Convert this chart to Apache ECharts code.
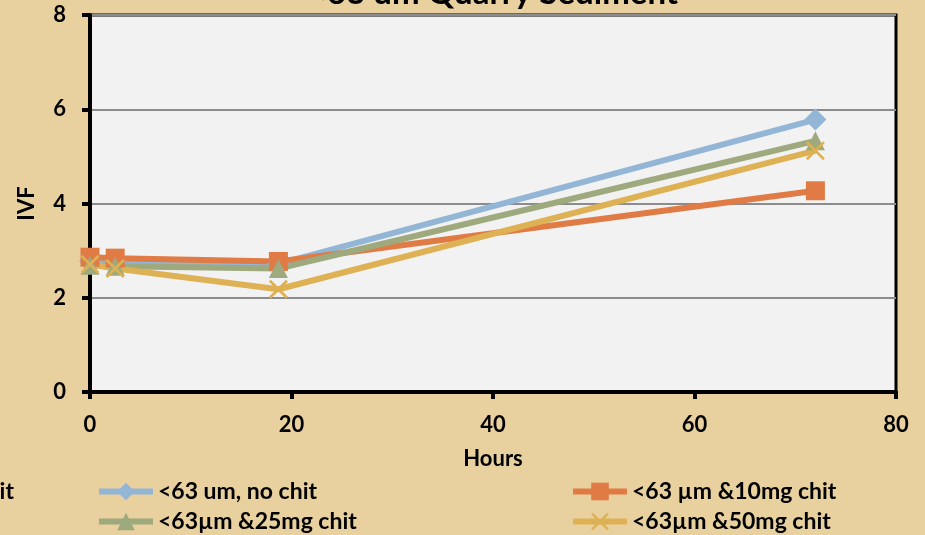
<!DOCTYPE html>
<html>
<head>
<meta charset="utf-8">
<script src="https://cdn.jsdelivr.net/npm/echarts@6/dist/echarts.min.js"></script>
<style>
  html, body { margin: 0; padding: 0; background: #E8D19E; }
  #chart { width: 925px; height: 535px; }
</style>
</head>
<body>
<div id="chart"></div>
<script>
// Incubation time (hours) and IVF readings for each treatment
var hours = [0, 2.5, 18.7, 72];
var noChit = [2.78, 2.78, 2.72, 5.78];
var chit10 = [2.86, 2.84, 2.77, 4.27];
var chit25 = [2.69, 2.67, 2.62, 5.33];
var chit50 = [2.71, 2.62, 2.18, 5.12];

var seriesNames = ['<63 um, no chit', '<63 µm &10mg chit', '<63µm &25mg chit', '<63µm &50mg chit'];
var seriesColors = ['#93B5D6', '#E07B45', '#9EA97D', '#DDB154'];
var yTicks = [0, 2, 4, 6, 8];
var xTicks = [0, 20, 40, 60, 80];

var FONT = 'Lato, "Open Sans", sans-serif';
var crossPath = 'path://M0,1 L1,0 L5,4 L9,0 L10,1 L6,5 L10,9 L9,10 L5,6 L1,10 L0,9 L4,5 Z';
var labelFont = { fontFamily: FONT, fontWeight: 'bold', fontSize: 22, color: '#000' };
var legendFont = { fontFamily: FONT, fontWeight: 'bold', fontSize: 23, color: '#000' };

function pairs(ys) {
  return hours.map(function (h, i) { return [h, ys[i]]; });
}

function lineSeries(idx, values, symbol, size) {
  return {
    name: seriesNames[idx],
    type: 'line',
    data: pairs(values),
    symbol: symbol,
    symbolSize: size,
    showSymbol: true,
    lineStyle: { color: seriesColors[idx], width: 6 },
    itemStyle: { color: seriesColors[idx] },
    emphasis: { disabled: true }
  };
}

function legendAt(left, top, name) {
  return {
    left: left, top: top, orient: 'horizontal', padding: 0,
    itemWidth: 54, itemHeight: 22, itemGap: 0,
    lineStyle: { width: 6 },
    data: [name],
    textStyle: legendFont
  };
}

var chart = echarts.init(document.getElementById('chart'));
chart.setOption({
  backgroundColor: '#E8D19E',
  animation: false,
  graphic: [
    {
      type: 'text', x: 493, y: -23,
      style: { text: '<63 um Quarry Sediment', font: 'bold 33px ' + FONT, fill: '#000', textAlign: 'center' }
    },
    {
      type: 'text', right: 911, top: 480,
      style: { text: '<63 um &5mg chit', font: 'bold 23px ' + FONT, fill: '#000', textAlign: 'right' }
    }
  ],
  grid: {
    left: 90, top: 15, right: 29, bottom: 143,
    show: true, backgroundColor: '#F2F2F2', borderColor: '#000', borderWidth: 3
  },
  legend: [
    legendAt(96, 480, seriesNames[0]),
    legendAt(96, 510, seriesNames[2]),
    legendAt(570, 480, seriesNames[1]),
    legendAt(570, 510, seriesNames[3])
  ],
  xAxis: {
    type: 'value', min: xTicks[0], max: xTicks[xTicks.length - 1], interval: 20,
    name: 'Hours', nameLocation: 'middle', nameGap: 56,
    nameTextStyle: labelFont,
    axisLine: { lineStyle: { color: '#000', width: 4 } },
    axisTick: { show: true, length: 7, lineStyle: { color: '#000', width: 4 } },
    axisLabel: Object.assign({ margin: 22 }, labelFont),
    splitLine: { show: false }
  },
  yAxis: {
    type: 'value', min: yTicks[0], max: yTicks[yTicks.length - 1], interval: 2,
    name: 'IVF', nameLocation: 'middle', nameGap: 52, nameRotate: 90,
    nameTextStyle: labelFont,
    axisLine: { show: true, lineStyle: { color: '#000', width: 4 } },
    axisTick: { show: true, length: 8, lineStyle: { color: '#000', width: 4 } },
    axisLabel: Object.assign({ margin: 24 }, labelFont),
    splitLine: { show: true, lineStyle: { color: '#8C8C8C', width: 2 } }
  },
  series: [
    lineSeries(0, noChit, 'diamond', 22),
    lineSeries(1, chit10, 'rect', 19),
    lineSeries(2, chit25, 'triangle', 19),
    lineSeries(3, chit50, crossPath, 19)
  ]
});
</script>
</body>
</html>
